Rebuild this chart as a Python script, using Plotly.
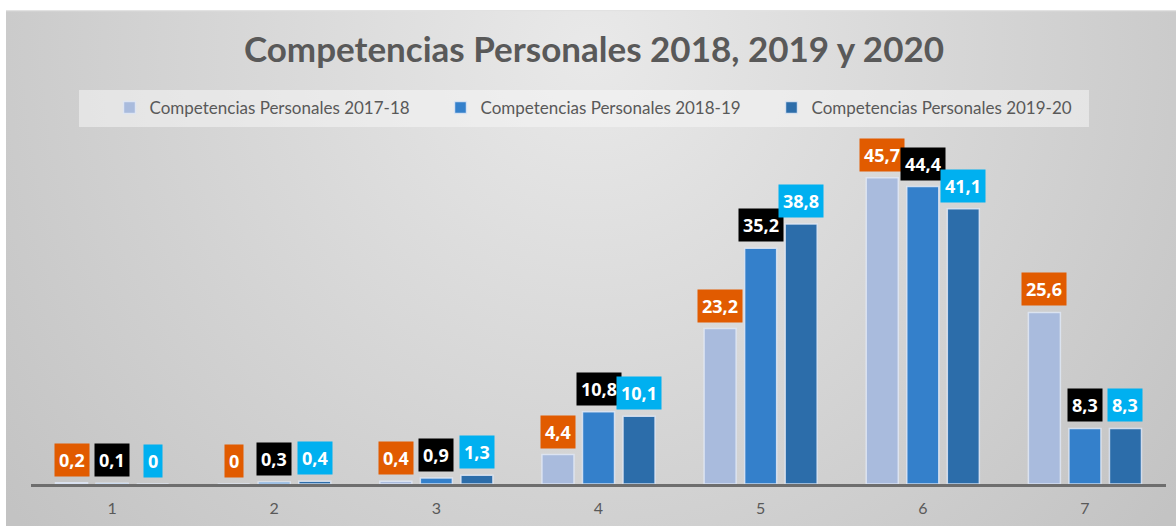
import base64
import plotly.graph_objects as go

categories = ["1", "2", "3", "4", "5", "6", "7"]
series_names = [
    "Competencias Personales 2017-18",
    "Competencias Personales 2018-19",
    "Competencias Personales 2019-20",
]
s_2017_18 = [0.2, 0, 0.4, 4.4, 23.2, 45.7, 25.6]
s_2018_19 = [0.1, 0.3, 0.9, 10.8, 35.2, 44.4, 8.3]
s_2019_20 = [0, 0.4, 1.3, 10.1, 38.8, 41.1, 8.3]
series_values = [s_2017_18, s_2018_19, s_2019_20]
title_text = "Competencias Personales 2018, 2019 y 2020"

bar_colors = ["#A9BBDD", "#3480CB", "#2C6DAA"]
label_colors = ["#E15B00", "#000000", "#00B0F0"]

W, H = 1176, 526
L, R, T, B = 31, 10, 149, 42
PW, PH = W - L - R, H - T - B


def px_x(p):
    return (p - L) / PW


def px_y(p):
    return (H - B - p) / PH


def fmt(v):
    return ("%g" % v).replace(".", ",")


svg = f"""<svg xmlns="http://www.w3.org/2000/svg" width="1170" height="516" viewBox="0 0 1170 516">
<defs><radialGradient id="g" gradientUnits="userSpaceOnUse" cx="585" cy="40" r="740">
<stop offset="0" stop-color="#E9E9E9"/><stop offset="1" stop-color="#C3C3C3"/></radialGradient></defs>
<rect x="0" y="0" width="1170" height="516" fill="url(#g)"/>
<line x1="0" y1="0.5" x2="1170" y2="0.5" stroke="#E2E2E2" stroke-width="1.5"/>
</svg>"""
src = "data:image/svg+xml;base64," + base64.b64encode(svg.encode()).decode()

fig = go.Figure()
for name, vals, col in zip(series_names, series_values, bar_colors):
    fig.add_trace(go.Bar(
        x=categories, y=vals, name=name,
        marker=dict(color=col, line=dict(color="rgba(225,232,244,0.85)", width=1.5)),
    ))

annotations = []
offsets = [-40.5, 0, 40.5]
for vals, bg, off in zip(series_values, label_colors, offsets):
    for i, v in enumerate(vals):
        annotations.append(dict(
            x=i, y=v, xref="x", yref="y", text=fmt(v), showarrow=False,
            xanchor="center", yanchor="bottom", xshift=off, yshift=6,
            bgcolor=bg, borderpad=4,
            font=dict(family="Open Sans", size=18, color="white", weight="bold"),
        ))

fig.update_layout(
    width=W, height=H,
    margin=dict(l=L, r=R, t=T, b=B, pad=0, autoexpand=False),
    paper_bgcolor="white", plot_bgcolor="rgba(0,0,0,0)",
    barmode="group", bargap=0.25, bargroupgap=0.21,
    title=dict(text=title_text, x=px_x(594), xref="paper", xanchor="center",
               y=1 - 50 / H, yref="container", yanchor="middle",
               font=dict(family="Lato", size=35, color="#595959", weight="bold")),
    legend=dict(orientation="h", x=px_x(606), xanchor="center", y=px_y(108), yanchor="middle",
                bgcolor="rgba(0,0,0,0)", font=dict(family="Lato", size=17, color="#595959"),
                entrywidth=286, itemclick=False),
    xaxis=dict(type="category", range=[-0.5, 6.5], autorange=False,
               showline=True, linecolor="#6E6E6E", linewidth=2.5,
               showgrid=False, ticks="", tickfont=dict(family="Lato", size=16, color="#595959"),
               ticklabelstandoff=8, fixedrange=True, automargin=False),
    yaxis=dict(range=[0, 50], autorange=False, visible=False, showgrid=False,
               fixedrange=True, automargin=False),
    annotations=annotations,
    images=[dict(source=src, xref="paper", yref="paper", x=px_x(6), y=px_y(10),
                 sizex=(W - 6) / PW, sizey=(H - 10) / PH, xanchor="left", yanchor="top",
                 sizing="stretch", layer="below")],
    shapes=[dict(type="rect", xref="paper", yref="paper", x0=px_x(79), x1=px_x(1089),
                 y0=px_y(127), y1=px_y(90), line=dict(width=0),
                 fillcolor="rgba(245,245,245,0.55)", layer="below")],
)

fig.write_html("out.html", config={"displayModeBar": False},
               post_script="document.body.style.margin='0';")
